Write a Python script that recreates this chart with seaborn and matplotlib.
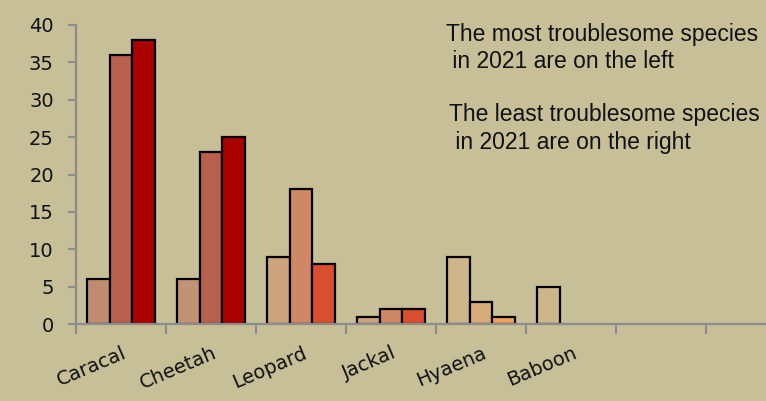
import pandas as pd
import numpy as np
import matplotlib
matplotlib.use("Agg")
import matplotlib.pyplot as plt
import matplotlib.transforms as mtransforms
import seaborn as sns

# ─── data ──────────────────────────────────────────────────────
species = ["Caracal", "Cheetah", "Leopard", "Jackal", "Hyaena", "Baboon", "", " "]
series = ["a", "b", "c"]
values_a = [6, 6, 9, 1, 9, 5]
values_b = [36, 23, 18, 2, 3, np.nan]
values_c = [38, 25, 8, 2, 1, np.nan]

note_top = "The most troublesome species\n in 2021 are on the left"
note_bottom = "The least troublesome species\n in 2021 are on the right"

# bar colours per species (one per series)
bar_colors = {
    "Caracal": ["#C08C70", "#B8604E", "#AA0000"],
    "Cheetah": ["#C29276", "#B8604E", "#AA0000"],
    "Leopard": ["#CCA47E", "#CE8866", "#D84E2E"],
    "Jackal": ["#CCA47E", "#CE8866", "#D84E2E"],
    "Hyaena": ["#CDB689", "#D8AC78", "#EEA05C"],
    "Baboon": ["#CDB689", "#D8AC78", "#EEA05C"],
}

bg = "#C6BF98"
axis_gray = "#8C8C8C"

rows = []
for i, sp in enumerate(species[:6]):
    for s, vals in zip(series, [values_a, values_b, values_c]):
        rows.append({"species": sp, "series": s, "value": vals[i]})
df = pd.DataFrame(rows).dropna()

# ─── figure ────────────────────────────────────────────────────
sns.set_style("white")
plt.rcParams["font.family"] = ["DejaVu Sans"]

fig = plt.figure(figsize=(7.66, 4.01), dpi=100, facecolor=bg)
ax = fig.add_axes([76 / 766, 77 / 401, 690 / 766, 299 / 401])
ax.set_facecolor(bg)

sns.barplot(data=df, x="species", y="value", hue="series", order=species,
            hue_order=series, width=0.75, errorbar=None, edgecolor="black",
            linewidth=1.6, legend=False, ax=ax)

# recolour each bar by species and series position
for p in ax.patches:
    xc = p.get_x() + p.get_width() / 2
    cat = int(round(xc))
    k = int(round((xc - cat) / 0.25)) + 1
    if cat < len(species) and species[cat] in bar_colors:
        p.set_facecolor(bar_colors[species[cat]][k])

ax.set_yticks(range(0, 41, 5))
ax.set_xticks(np.arange(len(species)))
ax.set_xticklabels(species)
ax.set_xticks(np.arange(-0.5, len(species), 1.0), minor=True)
ax.set_ylim(0, 40)
ax.set_xlim(-0.5, 7.5 - 30 / 90)
ax.set_xlabel("")
ax.set_ylabel("")

for side in ["top", "right"]:
    ax.spines[side].set_visible(False)
for side in ["left", "bottom"]:
    ax.spines[side].set_color(axis_gray)
    ax.spines[side].set_linewidth(1.6)
    ax.spines[side].set_zorder(5)

ax.tick_params(axis="y", which="major", direction="out", length=6, width=1.5,
               color=axis_gray, labelsize=14, pad=10, left=True,
               labelcolor="#111111")
ax.tick_params(axis="x", which="major", length=0, labelsize=14, pad=14,
               labelcolor="#111111")
ax.tick_params(axis="x", which="minor", direction="out", length=7, width=1.5,
               color=axis_gray, bottom=True)

shift = mtransforms.ScaledTranslation(1 / 100, 0, fig.dpi_scale_trans)
for lab in ax.get_xticklabels():
    lab.set_rotation(23)
    lab.set_ha("right")
    lab.set_va("top")
    lab.set_rotation_mode("anchor")
    lab.set_transform(lab.get_transform() + shift)

fig.text(446 / 766, 1 - 23 / 401, note_top, ha="left", va="top",
         fontsize=16.5, family="Liberation Sans", linespacing=1.25,
         color="#111111")
fig.text(449 / 766, 1 - 103 / 401, note_bottom, ha="left", va="top",
         fontsize=16.5, family="Liberation Sans", linespacing=1.25,
         color="#111111")

fig.savefig("out.png", dpi=100, facecolor=bg)
